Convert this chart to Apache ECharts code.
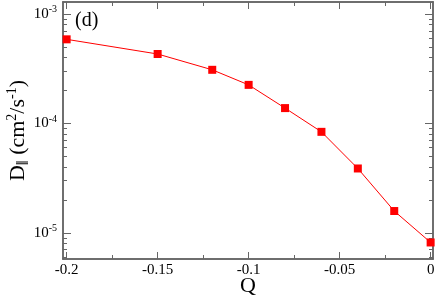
<!DOCTYPE html>
<html>
<head>
<meta charset="utf-8">
<script src="https://cdn.jsdelivr.net/npm/echarts@6/dist/echarts.min.js"></script>
<style>html,body{margin:0;padding:0;background:#fff}#c{width:436px;height:297px}</style>
</head>
<body>
<div id="c"></div>
<script>
const qValues = [-0.2, -0.15, -0.12, -0.1, -0.08, -0.06, -0.04, -0.02, 0];
const dValues = [5.87e-4, 4.31e-4, 3.09e-4, 2.25e-4, 1.38e-4, 8.37e-5, 3.87e-5, 1.58e-5, 8.15e-6];
const xMajorTicks = [-0.2, -0.15, -0.1, -0.05, 0];
const xMinorTicks = [-0.175, -0.125, -0.075, -0.025];
const yMajorTicks = [1e-5, 1e-4, 1e-3];
const yMinorTicks = [];
[1e-6, 1e-5, 1e-4, 1e-3].forEach(d => { for (let k = 2; k <= 9; k++) yMinorTicks.push(+(k * d).toPrecision(3)); });

const FONT = 'Liberation Serif';
const X_MIN = -0.202, X_MAX = 0.0013;
const Y_MIN = Math.pow(10, -5.24), Y_MAX = Math.pow(10, -2.89);
const axisColor = '#666';

function xAxisDef(gridIndex, pos, major, showLabel) {
  const ticks = major ? xMajorTicks : xMinorTicks;
  return {
    gridIndex: gridIndex,
    type: 'value', position: pos, min: X_MIN, max: X_MAX,
    axisLine: { show: true, onZero: false, lineStyle: { color: axisColor, width: 1.5 } },
    axisTick: { show: true, inside: true, length: major ? 7 : 4, customValues: ticks, lineStyle: { color: axisColor, width: 1 } },
    axisLabel: showLabel ? { show: true, customValues: xMajorTicks, fontFamily: FONT, fontSize: 15, color: '#000', margin: 4,
      formatter: v => (Math.abs(v) < 1e-9 ? '0' : String(+v.toFixed(3))) } : { show: false },
    splitLine: { show: false },
    name: showLabel ? 'Q' : '', nameLocation: 'middle', nameGap: 16, nameMoveOverlap: false,
    nameTextStyle: { fontFamily: FONT, fontSize: 22, color: '#000' }
  };
}
function yAxisDef(gridIndex, pos, major, showLabel) {
  const ticks = major ? yMajorTicks : yMinorTicks.filter(v => v > Y_MIN && v < Y_MAX);
  return {
    gridIndex: gridIndex,
    type: 'log', position: pos, min: Y_MIN, max: Y_MAX, logBase: 10,
    axisLine: { show: true, onZero: false, lineStyle: { color: axisColor, width: 1.5 } },
    axisTick: { show: true, inside: true, length: major ? 8 : 4, customValues: ticks, lineStyle: { color: axisColor, width: 1 } },
    axisLabel: showLabel ? {
      show: true, customValues: yMajorTicks, margin: 6,
      formatter: v => '{b|10}{s|' + Math.round(Math.log10(v)) + '}',
      rich: {
        b: { fontFamily: FONT, fontSize: 15, color: '#000' },
        s: { fontFamily: FONT, fontSize: 10, color: '#000', padding: [0, 0, 9, 0] }
      }
    } : { show: false },
    splitLine: { show: false },
    name: showLabel ? '{n|D}{sub|‖}{n| (cm}{sup|2}{n|/s}{sup|-1}{n|)}' : '',
    nameLocation: 'middle', nameGap: 31, nameRotate: 90, nameMoveOverlap: false,
    nameTextStyle: {
      rich: {
        n: { fontFamily: FONT, fontSize: 22, color: '#000' },
        sub: { fontFamily: FONT, fontSize: 17, color: '#000', padding: [10, 0, 0, 0] },
        sup: { fontFamily: FONT, fontSize: 14, color: '#000', padding: [0, 0, 12, 0] }
      }
    }
  };
}

const gridBox = { left: 63, right: 3, top: 2, bottom: 38, containLabel: false, outerBoundsMode: 'none' };
const chart = echarts.init(document.getElementById('c'), null, { renderer: 'canvas' });
chart.setOption({
  animation: false,
  backgroundColor: '#fff',
  grid: [Object.assign({}, gridBox), Object.assign({}, gridBox)],
  title: { text: '(d)', left: 75, top: 11, padding: 0, textStyle: { fontFamily: FONT, fontSize: 20, fontWeight: 'normal', color: '#000' } },
  xAxis: [xAxisDef(0, 'bottom', true, true), xAxisDef(0, 'top', true, false), xAxisDef(1, 'bottom', false, false), xAxisDef(1, 'top', false, false)],
  yAxis: [yAxisDef(0, 'left', true, true), yAxisDef(0, 'right', true, false), yAxisDef(1, 'left', false, false), yAxisDef(1, 'right', false, false)],
  series: [{
    type: 'line', xAxisIndex: 0, yAxisIndex: 0,
    data: qValues.map((q, i) => [q, dValues[i]]),
    symbol: 'rect', symbolSize: 8,
    itemStyle: { color: '#ff0000' },
    lineStyle: { color: '#ff0000', width: 1 }
  }]
});
</script>
</body>
</html>
